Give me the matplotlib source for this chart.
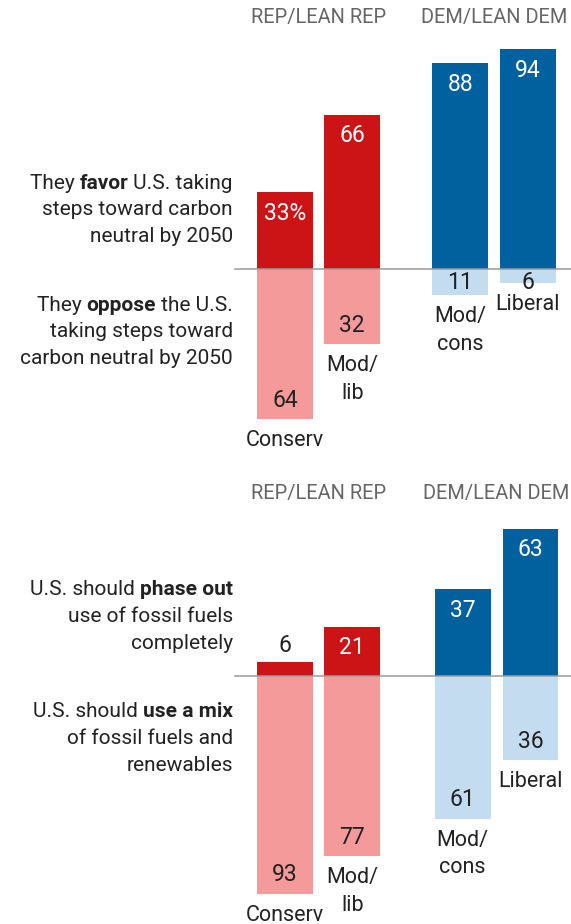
import numpy as np
import matplotlib
matplotlib.use("Agg")
import matplotlib.pyplot as plt

plt.rcParams['font.family'] = ['Roboto', 'DejaVu Sans']

# ---- data ----
groups = ["REP/LEAN REP", "DEM/LEAN DEM"]
categories = ["Conserv", "Mod/\nlib", "Mod/\ncons", "Liberal"]

favor = [33, 66, 88, 94]
oppose = [64, 32, 11, 6]

phase_out = [6, 21, 37, 63]
use_mix = [93, 77, 61, 36]

favor_text = [[("They ", False), ("favor", True), (" U.S. taking", False)],
              [("steps toward carbon", False)],
              [("neutral by 2050", False)]]
oppose_text = [[("They ", False), ("oppose", True), (" the U.S.", False)],
               [("taking steps toward", False)],
               [("carbon neutral by 2050", False)]]
phase_text = [[("U.S. should ", False), ("phase out", True)],
              [("use of fossil fuels", False)],
              [("completely", False)]]
mix_text = [[("U.S. should ", False), ("use a mix", True)],
            [("of fossil fuels and", False)],
            [("renewables", False)]]

# ---- style ----
W, H = 571, 924
K = 2.34  # pixels per percentage point
DARK = ["#CC1417", "#CC1417", "#00619E", "#00619E"]
LIGHT = ["#F59A9A", "#F59A9A", "#C4DCF0", "#C4DCF0"]
TXT = "#222222"
FS = 15          # side labels
FS_VAL = 16.5    # bar values
FS_CAT = 15.5    # category names
FS_HEAD = 14.4   # group headers
bar_w = 55.7

fig = plt.figure(figsize=(W / 100, H / 100), dpi=100)
renderer = fig.canvas.get_renderer()


def rich_line(ax, x, y_off, pieces):
    # right aligned line with some bold words, drawn right to left
    dx = 0
    for txt, bold in reversed(pieces):
        t = ax.annotate(txt, (x, 0), xytext=(dx, y_off), textcoords='offset pixels',
                        ha='right', va='baseline', fontsize=FS, color=TXT,
                        fontweight='bold' if bold else 'normal')
        dx -= t.get_window_extent(renderer).width


def panel(ax, xpos, up, down, up_text, down_text, header_y, pct):
    ax.set_xlim(0, W)
    ax.axis('off')
    ax.bar(xpos, up, width=bar_w, color=DARK, zorder=2)
    ax.bar(xpos, [-v for v in down], width=bar_w, color=LIGHT, zorder=2)
    ax.plot([235, W], [0, 0], color="#9a9a9a", lw=1.1, zorder=3)

    for i, (x, v) in enumerate(zip(xpos, up)):
        s = f"{v}%" if (pct and i == 0) else str(v)
        if v * K >= 35:
            ax.annotate(s, (x, v), xytext=(0, -21), textcoords='offset pixels',
                        ha='center', va='center', fontsize=FS_VAL, color='white')
        else:
            ax.annotate(s, (x, v), xytext=(0, 16), textcoords='offset pixels',
                        ha='center', va='center', fontsize=FS_VAL, color=TXT)

    for x, v, c in zip(xpos, down, categories):
        off = max(v * K - 19, 13)
        ax.annotate(str(v), (x, 0), xytext=(0, -off), textcoords='offset pixels',
                    ha='center', va='center', fontsize=FS_VAL, color=TXT)
        ax.annotate(c, (x, -v), xytext=(0, -11), textcoords='offset pixels',
                    ha='center', va='top', fontsize=FS_CAT, color=TXT, linespacing=1.42)

    for i, pieces in enumerate(up_text):
        rich_line(ax, 233, 61 + (1 - i) * 26.7 - 7, pieces)
    for i, pieces in enumerate(down_text):
        rich_line(ax, 233, -61 + (1 - i) * 26.7 - 7, pieces)

    for g, gx in zip(groups, [(xpos[0] + xpos[1]) / 2, (xpos[2] + xpos[3]) / 2]):
        ax.annotate(g, (gx, 0), xytext=(0, header_y), textcoords='offset pixels',
                    ha='center', va='center', fontsize=FS_HEAD, color="#666666")


# top panel
ax1 = fig.add_axes([0, (H - 460) / H, 1, 460 / H])
ax1.set_ylim((269.3 - 460) / K, 269.3 / K)
panel(ax1, [284.9, 352.2, 460.2, 527.7], favor, oppose, favor_text, oppose_text,
      269.3 - 17, True)

# bottom panel
ax2 = fig.add_axes([0, 0, 1, 464 / H])
ax2.set_ylim((676 - H) / K, (676 - 460) / K)
panel(ax2, [284.7, 352.3, 462.7, 530.5], phase_out, use_mix, phase_text, mix_text,
      676 - 493.5, False)

fig.savefig("out.png", dpi=100, facecolor="white")
